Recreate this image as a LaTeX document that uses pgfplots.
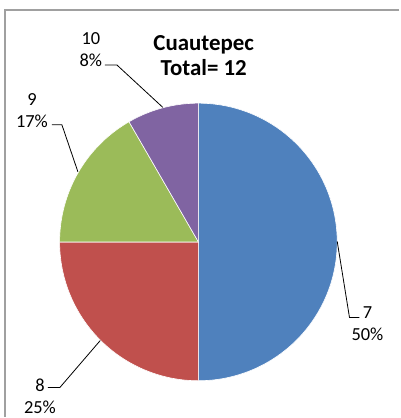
\documentclass[border=0pt]{standalone}
\usepackage{pgfplots}
\pgfplotsset{compat=1.18}
\usepackage{fontspec}
\setmainfont{Carlito}

\definecolor{c7}{RGB}{79,129,189}
\definecolor{c8}{RGB}{192,80,77}
\definecolor{c9}{RGB}{155,187,89}
\definecolor{c10}{RGB}{128,100,162}
\definecolor{framegray}{RGB}{160,160,160}

% pie centre and radius, in picture pixels
\def\cx{198.7}
\def\cy{242.3}
\def\rr{139}
% one slice: colour, count before it, its count (total 12)
\newcommand\slice[3]{%
  \addplot[fill=#1, draw=white, line width=0.6pt, domain={90-30*#2}:{90-30*(#2+#3)}, samples=90]
    ({\cx+\rr*cos(x)}, {\cy-\rr*sin(x)}) -- (axis cs:\cx,\cy) -- cycle;
}

\begin{document}
\begin{tikzpicture}
\begin{axis}[
    scale only axis,
    width=400bp, height=418bp,
    xmin=0, xmax=400, ymin=0, ymax=418,
    y dir=reverse,
    hide axis,
    clip=false,
]
\path (axis cs:0,0) rectangle (axis cs:400,418);
% frame
\draw[framegray, line width=1.2bp] (axis cs:400,10) -- (axis cs:5,10) -- (axis cs:5,418);

% values: 7 -> 6, 8 -> 3, 9 -> 2, 10 -> 1
\slice{c7}{0}{6}
\slice{c8}{6}{3}
\slice{c9}{9}{2}
\slice{c10}{11}{1}

% leader lines
\addplot[black, line width=0.8bp] coordinates {(337.7,241.7) (350,318) (360,318)};
\addplot[black, line width=0.8bp] coordinates {(100.4,341) (60,388) (48,388)};
\addplot[black, line width=0.8bp] coordinates {(78,172) (62,125) (52,125)};
\addplot[black, line width=0.8bp] coordinates {(163,107.5) (117,65) (105,65)};

% labels
\node[align=center, font=\fontsize{18.5}{22}\selectfont] at (axis cs:368,324) {7\\50\%};
\node[align=center, font=\fontsize{18.5}{22}\selectfont] at (axis cs:40,397) {8\\25\%};
\node[align=center, font=\fontsize{18.5}{22}\selectfont] at (axis cs:32,111) {9\\17\%};
\node[align=center, font=\fontsize{18.5}{22}\selectfont] at (axis cs:91,50) {10\\8\%};

% title
\node[align=center, font=\fontsize{23}{25}\bfseries] at (axis cs:204,56) {Cuautepec\\Total= 12};
\end{axis}
\end{tikzpicture}
\end{document}
